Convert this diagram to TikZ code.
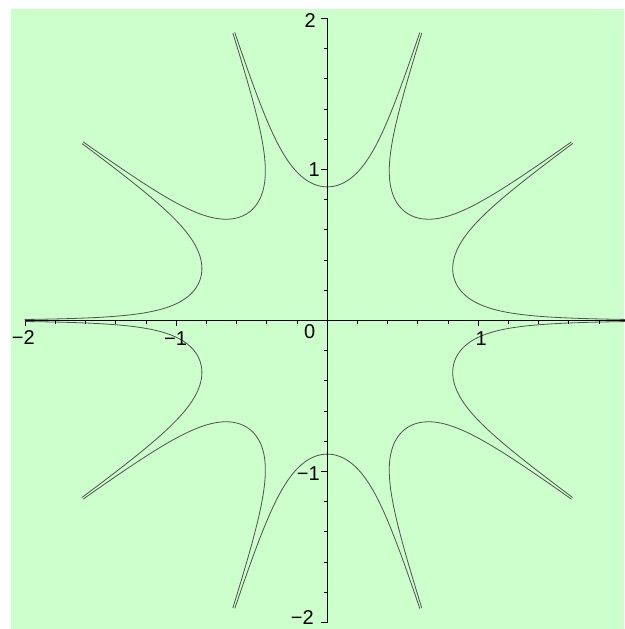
\documentclass[tikz,border=0pt]{standalone}
\usepackage{fontspec}
\setmainfont{Liberation Sans}
\definecolor{bggreen}{RGB}{204,255,204}
\definecolor{curvegray}{RGB}{80,80,80}
\begin{document}
\begin{tikzpicture}[x=151pt,y=151pt,
  axisline/.style={line width=1pt, black},
  curveline/.style={curvegray, line width=0.8pt, line join=round},
  lab/.style={inner sep=0pt, font=\fontsize{20}{24}\selectfont}]
\useasboundingbox (-327.3pt,-308.5pt) rectangle (296.7pt,320.5pt);
\fill[bggreen] (-316.3pt,-308.5pt) rectangle (296.7pt,311.2pt);
% curve |Im(z^5)| = a^5, clipped at r = 2
\foreach \k in {0,...,9}{
  \draw[curveline] plot[domain=-4.781:4.781, samples=301, variable=\s]
    ({(atan2(1,sinh(\s))+180*\k)/5}:{0.885*cosh(\s)^0.2});
}
% axes
\coordinate (xl) at (-2,0);
\coordinate (xr) at (2.05,0);
\coordinate (yb) at (0,-2);
\coordinate (yt) at (0,2);
\draw[axisline] (xl) -- (xr);
\draw[axisline] (yb) -- (yt);
\foreach \i in {-10,...,10}{
  \draw[axisline] (\i/5,0) -- ++(0,-3.5pt);
  \draw[axisline] (0,\i/5) -- ++(-3.5pt,0);
}
\foreach \i in {-2,-1,1,2}{
  \draw[axisline] (\i,0) -- ++(0,-5pt);
  \draw[axisline] (0,\i) -- ++(-6pt,0);
}
% labels
\node[lab, anchor=north, xshift=-2pt, yshift=-9.5pt] (xm2) at (-2,0) {−2};
\node[lab, anchor=north, xshift=-0.7pt, yshift=-11.2pt] (xm1) at (-1,0) {−1};
\node[lab, anchor=north, xshift=3pt, yshift=-11.2pt] (xp1) at (1,0) {1};
\node[lab, anchor=north east, xshift=-11.9pt, yshift=-3.5pt] (x0) at (0,0) {0};
\node[lab, anchor=east, xshift=-11.3pt, yshift=-1.7pt] (yp2) at (0,2) {2};
\node[lab, anchor=east, xshift=-7.3pt, yshift=-0.5pt] (yp1) at (0,1) {1};
\node[lab, anchor=east, xshift=-7.3pt, yshift=-2.5pt] (ym1) at (0,-1) {−1};
\node[lab, anchor=east, xshift=-13.3pt, yshift=5pt] (ym2) at (0,-2) {−2};
\end{tikzpicture}
\end{document}
